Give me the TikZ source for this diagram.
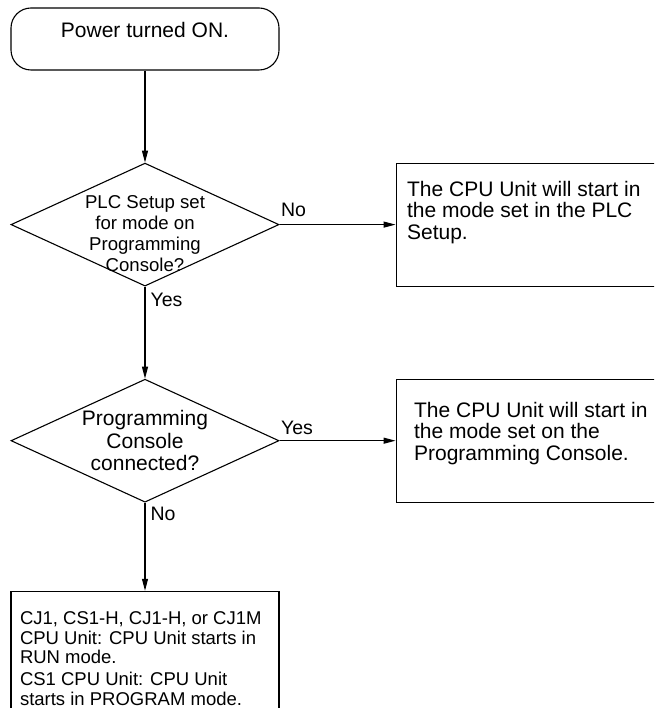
\documentclass[tikz,border=0pt]{standalone}
\usepackage{fontspec}
\setmainfont{Liberation Sans}
\usetikzlibrary{arrows.meta, positioning, shapes.geometric}

\begin{document}
\begin{tikzpicture}[
	line width=1.1pt,
	start/.style={
		draw,
		rectangle,
		rounded corners=20pt,
		minimum width=268pt,
		minimum height=62pt,
		text height=15pt,
		text depth=17pt,
		font=\fontsize{21}{21.5}\selectfont
	},
	decision/.style={
		draw,
		diamond,
		inner sep=0pt,
		minimum width=268pt,
		minimum height=123pt
	},
	box/.style={
		draw,
		rectangle,
		inner sep=0pt,
		minimum width=268pt,
		minimum height=123pt
	},
	boxtext/.style={anchor=north west, align=left, inner sep=0pt, font=\fontsize{21}{21.5}\selectfont},
	dtext/.style={align=center, inner sep=0pt},
	arrow/.style={-{Triangle[length=12pt, width=6pt]}},
	lbl/.style={inner sep=0pt, font=\fontsize{19.5}{20}\selectfont}
	]
	
	\path[use as bounding box, clip] (0,0) rectangle (654pt,-708pt);
	
	\node[start] (power) at (145pt,-39pt) {Power turned ON.};
	\node[decision, below=92pt of power,
		label={[dtext, font=\fontsize{18.6}{21.3}\selectfont, yshift=-9pt]center:{PLC Setup set\\for mode on\\Programming\\Console?}}] (plcset) {};
	\node[box, right=116pt of plcset,
		label={[boxtext, xshift=11pt, yshift=-17.7pt]north west:{The CPU Unit will start in\\the mode set in the PLC\\Setup.}}] (plcmode) {};
	\node[decision, below=92pt of plcset,
		label={[dtext, font=\fontsize{21}{22.5}\selectfont]center:{Programming\\Console\\connected?}}] (console) {};
	\node[box, right=116pt of console,
		label={[boxtext, xshift=18pt, yshift=-22.7pt]north west:{The CPU Unit will start in\\the mode set on the\\Programming Console.}}] (pcmode) {};
	\node[box, below=88pt of console, minimum height=130pt,
		label={[boxtext, font=\fontsize{18.5}{19.5}\selectfont, xshift=9pt, yshift=-20.5pt]north west:{CJ1, CS1-H, CJ1-H, or CJ1M\\CPU Unit: CPU Unit starts in\\RUN mode.\\[2.5pt]CS1 CPU Unit: CPU Unit\\starts in PROGRAM mode.}}] (runmode) {};
	
	\draw[arrow] (power) -- (plcset);
	\draw[arrow] (plcset) -- node[lbl, pos=0, anchor=south west, xshift=1pt, yshift=7pt] {No} (plcmode);
	\draw[arrow] (plcset) -- node[lbl, pos=0, anchor=north west, xshift=5pt, yshift=-6pt] {Yes} (console);
	\draw[arrow] (console) -- node[lbl, pos=0, anchor=south west, xshift=1pt, yshift=5pt] {Yes} (pcmode);
	\draw[arrow] (console) -- node[lbl, pos=0, anchor=north west, xshift=5pt, yshift=-4pt] {No} (runmode);
	
\end{tikzpicture}
\end{document}
